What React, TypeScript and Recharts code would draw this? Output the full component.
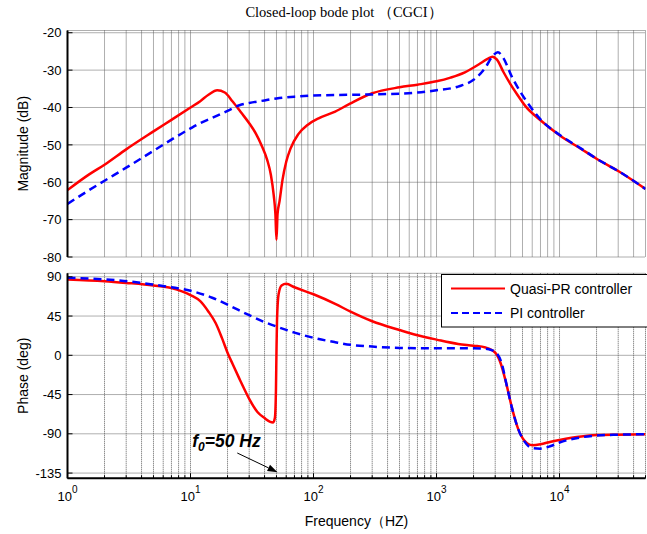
import React from 'react';
import { LineChart, Line, XAxis, YAxis, CartesianGrid, ReferenceLine, Legend, Label } from 'recharts';

const SANS = '"Liberation Sans", Arial, Helvetica, sans-serif';
const SERIF = '"Liberation Serif", "Times New Roman", serif';

// ---- axis ticks ----
const decades = [1, 10, 100, 1000, 10000];
const mantissas = [1, 2, 3, 4, 5, 6, 7, 8, 9];
const xTicks = decades.flatMap((d) => mantissas.map((m) => m * d)).filter((v) => v <= 50000);
const decadeExponent: Record<number, string> = { 1: '0', 10: '1', 100: '2', 1000: '3', 10000: '4' };
const magTicks = [-80, -70, -60, -50, -40, -30, -20];
const phaseTicks = [-135, -90, -45, 0, 45, 90];

// ---- magnitude (dB) ----
const magFreqPR = [1, 1.5, 2, 3, 5, 7, 10, 12, 14, 16.5, 19, 22, 26, 30, 34, 38, 42, 45, 47.5, 49, 50, 51, 53, 56, 60, 65, 75, 90, 110, 150, 200, 300, 500, 700, 1000, 1300, 1700, 2200, 2600, 2850, 3100, 3500, 4000, 4500, 5300, 7000, 10000, 15000, 20000, 30000, 50000];
const magPR = [-62.1, -57.9, -55.3, -51.2, -46.4, -43.3, -40.0, -38.3, -36.6, -35.4, -36.0, -38.4, -41.5, -44.2, -47.0, -50.3, -54.0, -58.0, -63.5, -68.5, -75.4, -68.5, -65.0, -59.3, -54.5, -51.0, -47.2, -44.6, -42.9, -41.1, -38.9, -36.2, -34.6, -33.9, -33.0, -32.0, -30.6, -28.5, -27.0, -26.4, -27.2, -30.5, -33.8, -36.4, -39.7, -43.4, -47.4, -51.1, -53.7, -57.0, -61.8];

const magFreqPI = [1, 1.5, 2, 3, 5, 7, 10, 12, 15, 20, 25, 30, 40, 50, 70, 100, 200, 300, 500, 700, 1000, 1500, 2000, 2500, 2850, 3150, 3500, 4100, 4800, 5800, 7000, 10000, 15000, 20000, 30000, 50000];
const magPI = [-65.8, -62.1, -59.6, -56.1, -51.6, -48.6, -45.6, -44.2, -42.8, -40.9, -39.4, -38.8, -38.1, -37.6, -37.1, -36.8, -36.6, -36.5, -36.3, -36.0, -35.4, -34.4, -32.6, -29.3, -26.3, -25.2, -26.8, -31.8, -35.8, -39.8, -43.2, -47.3, -51.0, -53.7, -57.0, -61.8];

// ---- phase (deg) ----
const phaseFreqPR = [1, 2, 3, 5, 7, 10, 12, 14, 16, 18, 20, 22, 25, 27, 30, 35, 40, 44, 47, 48.5, 49.5, 50, 50.5, 52, 55, 60, 70, 100, 150, 200, 300, 500, 700, 1000, 1500, 2000, 2500, 3000, 3300, 3700, 4100, 4600, 5200, 6000, 7000, 8500, 10000, 15000, 20000, 30000, 50000];
const phasePR = [87, 85, 83, 80, 77, 69, 62, 50, 37, 20, 3, -10, -27, -37, -50, -65, -72, -76, -77, -72, -40, 5, 40, 70, 80, 82, 78, 70, 59, 50, 39, 29, 23, 18, 13, 11, 9, 3, -8, -33, -60, -84, -98, -103, -102, -99, -97, -93, -91.5, -91, -90.5];

const phaseFreqPI = [1, 2, 3, 5, 7, 10, 15, 20, 30, 40, 50, 70, 100, 150, 200, 300, 500, 1000, 2000, 2500, 2800, 3100, 3400, 3700, 4100, 4600, 5200, 6000, 7000, 8500, 10000, 15000, 20000, 30000, 50000];
const phasePI = [89, 87, 85, 81, 78, 74, 66, 58, 46, 38, 33, 26, 20, 15, 12, 10, 8.5, 8, 8, 7.5, 6, 2, -10, -33, -60, -84, -99, -106.5, -107, -104, -100, -94, -92, -91, -90.5];

const seriesNames = ['Quasi-PR controller', 'PI controller'];
const annotationText = { main: 'f', sub: '0', rest: '=50 Hz' };
const arrowFrom = { f: 24, phase: -112 };
const arrowTo = { f: 51, phase: -134 };

const toData = (fs: number[], vs: number[]) => fs.map((f, i) => ({ f, v: vs[i] }));
const magPRData = toData(magFreqPR, magPR);
const magPIData = toData(magFreqPI, magPI);
const phasePRData = toData(phaseFreqPR, phasePR);
const phasePIData = toData(phaseFreqPI, phasePI);

const RED = '#ff0000';
const BLUE = '#0000ff';
const GRID = '#5e5e5e';

const isMajor = (v: number) => decadeExponent[v] !== undefined;

const bottomTick = (showLabel: boolean) => (p: any) => {
  const { x, y, payload } = p;
  const v = payload.value;
  const len = isMajor(v) ? 5 : 3;
  return (
    <g>
      <line x1={x} x2={x} y1={y} y2={y - len} stroke="#000" strokeWidth={1} />
      {showLabel && isMajor(v) ? (
        <text x={x} y={y + 23} textAnchor="middle" fontFamily={SANS} fontSize={13} fill="#000">
          10
          <tspan dy={-8.5} fontSize={10}>{decadeExponent[v]}</tspan>
        </text>
      ) : null}
    </g>
  );
};

const topTick = (p: any) => {
  const { x, y, payload } = p;
  const len = isMajor(payload.value) ? 5 : 3;
  return <line x1={x} x2={x} y1={y} y2={y + len} stroke="#000" strokeWidth={1} />;
};

const yTick = (p: any) => {
  const { x, y, payload } = p;
  const axisX = x + 6;
  return (
    <g>
      <line x1={axisX} x2={axisX + 5} y1={y} y2={y} stroke="#000" strokeWidth={1} />
      <text x={x} y={y} dy="0.36em" textAnchor="end" fontFamily={SANS} fontSize={13} fill="#000">
        {payload.value}
      </text>
    </g>
  );
};

const yLabel = (text: string) => (props: any) => {
  const vb = props.viewBox || {};
  const cx = (vb.x || 0) + 23;
  const cy = (vb.y || 0) + (vb.height || 0) / 2;
  return (
    <text x={cx} y={cy} transform={`rotate(-90 ${cx} ${cy})`} textAnchor="middle" dominantBaseline="central" fontFamily={SANS} fontSize={14} fill="#000">
      {text}
    </text>
  );
};

const xLabel = (props: any) => {
  const vb = props.viewBox || {};
  const cx = (vb.x || 0) + (vb.width || 0) / 2;
  const cy = (vb.y || 0) + 47.5;
  return (
    <text x={cx} y={cy} textAnchor="middle" fontFamily={SANS} fontSize={14} fill="#000">
      Frequency（HZ)
    </text>
  );
};

const renderLegend = (props: any) => {
  const payload = props.payload || [];
  const items = seriesNames.map((name) => payload.find((e: any) => e.value === name)).filter(Boolean);
  return (
    <svg width={210} height={54} style={{ display: 'block' }}>
      <rect x={0.5} y={0.5} width={215} height={52.5} fill="#fff" stroke="#000" strokeWidth={1} />
      {items.map((e: any, i: number) => {
        const yy = 14.5 + i * 24.5;
        const dashed = e.value === 'PI controller';
        return (
          <g key={e.value}>
            <line x1={10} x2={64} y1={yy} y2={yy} stroke={e.color} strokeWidth={2} strokeDasharray={dashed ? '7 4' : undefined} />
            <text x={69} y={yy + 5} fontFamily={SANS} fontSize={14} fill="#000">{e.value}</text>
          </g>
        );
      })}
    </svg>
  );
};

const arrowShape = (p: any) => {
  const { x1, y1, x2, y2 } = p;
  const ang = Math.atan2(y2 - y1, x2 - x1);
  const L = 10;
  const W = 3.5;
  const bx = x2 - L * Math.cos(ang);
  const by = y2 - L * Math.sin(ang);
  const px = -Math.sin(ang) * W;
  const py = Math.cos(ang) * W;
  return (
    <g>
      <line x1={x1} y1={y1} x2={bx} y2={by} stroke="#000" strokeWidth={1} />
      <polygon points={`${x2},${y2} ${bx + px},${by + py} ${bx - px},${by - py}`} fill="#000" />
      <text x={x1 - 45} y={y1 - 6} fontFamily={SANS} fontSize={17.5} fontWeight="bold" fontStyle="italic" fill="#000">
        {annotationText.main}
        <tspan dy={4} fontSize={12}>{annotationText.sub}</tspan>
        <tspan dy={-4}>{annotationText.rest}</tspan>
      </text>
    </g>
  );
};

const xAxisCommon = {
  type: 'number' as const,
  scale: 'log' as const,
  domain: [1, 50000],
  ticks: xTicks,
  allowDataOverflow: true,
  interval: 0 as const,
  tickSize: 0,
  tickMargin: 0,
};

export default function App() {
  return (
    <div style={{ position: 'absolute', left: 0, top: 0, width: 647, height: 534, overflow: 'hidden', background: '#fff' }}>
      <div style={{ position: 'absolute', left: 0, top: 0 }}>
        <svg width={647} height={26} style={{ display: 'block' }}>
          <text x={344} y={17} textAnchor="middle" fontFamily={SERIF} fontSize={14.5} fill="#000">
            Closed-loop bode plot （CGCI）
          </text>
        </svg>
      </div>

      <div style={{ position: 'absolute', left: 0, top: 0 }}>
        <LineChart width={647} height={268} margin={{ top: 30.5, right: 1.5, bottom: 11, left: 0 }}>
          <CartesianGrid stroke={GRID} strokeDasharray="1 1" />
          <XAxis dataKey="f" {...xAxisCommon} height={0} tick={bottomTick(false)} axisLine={{ stroke: '#000', strokeWidth: 2 }} />
          <XAxis xAxisId="top" orientation="top" dataKey="f" {...xAxisCommon} height={0} tick={topTick} axisLine={{ stroke: '#000', strokeWidth: 1.2 }} />
          <YAxis type="number" domain={[-80, -19.4]} ticks={magTicks} allowDataOverflow width={67.5} tickSize={0} tickMargin={6} tick={yTick} axisLine={{ stroke: '#000', strokeWidth: 2 }} interval={0}>
            <Label content={yLabel('Magnitude (dB)')} />
          </YAxis>
          <Line data={magPRData} dataKey="v" name={seriesNames[0]} type="monotone" stroke={RED} strokeWidth={2.5} dot={false} isAnimationActive={false} />
          <Line data={magPIData} dataKey="v" name={seriesNames[1]} type="monotone" stroke={BLUE} strokeWidth={2.5} strokeDasharray="8 5" dot={false} isAnimationActive={false} />
        </LineChart>
      </div>

      <div style={{ position: 'absolute', left: 0, top: 262 }}>
        <LineChart width={647} height={272} margin={{ top: 11.3, right: 1.5, bottom: 0, left: 0 }}>
          <CartesianGrid stroke={GRID} strokeDasharray="1 1" />
          <XAxis dataKey="f" {...xAxisCommon} height={55.7} tick={bottomTick(true)} axisLine={{ stroke: '#000', strokeWidth: 2 }}>
            <Label content={xLabel} />
          </XAxis>
          <XAxis xAxisId="top" orientation="top" dataKey="f" {...xAxisCommon} height={0} tick={topTick} axisLine={{ stroke: '#000', strokeWidth: 2 }} />
          <YAxis type="number" domain={[-141, 94]} ticks={phaseTicks} allowDataOverflow width={67.5} tickSize={0} tickMargin={6} tick={yTick} axisLine={{ stroke: '#000', strokeWidth: 2 }} interval={0}>
            <Label content={yLabel('Phase (deg)')} />
          </YAxis>
          <Line data={phasePRData} dataKey="v" name={seriesNames[0]} type="monotone" stroke={RED} strokeWidth={2.5} dot={false} isAnimationActive={false} />
          <Line data={phasePIData} dataKey="v" name={seriesNames[1]} type="monotone" stroke={BLUE} strokeWidth={2.5} strokeDasharray="8 5" dot={false} isAnimationActive={false} />
          <ReferenceLine
            segment={[{ x: arrowFrom.f, y: arrowFrom.phase }, { x: arrowTo.f, y: arrowTo.phase }]}
            ifOverflow="visible"
            shape={arrowShape}
          />
          <Legend
            layout="vertical"
            align="center"
            verticalAlign="middle"
            content={renderLegend}
            wrapperStyle={{ position: 'absolute', left: 441, top: 12, width: 210, height: 54 }}
          />
        </LineChart>
      </div>
    </div>
  );
}
